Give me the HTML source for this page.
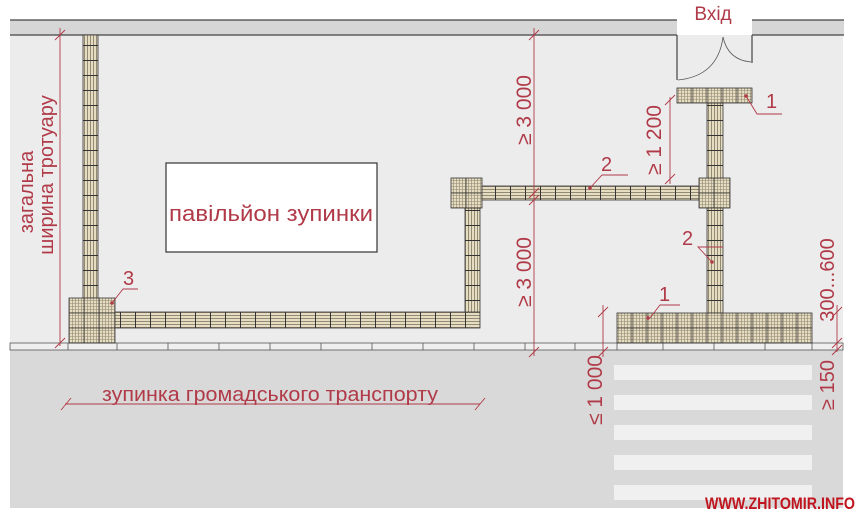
<!DOCTYPE html>
<html><head><meta charset="utf-8"><style>
html,body{margin:0;padding:0;background:#fff;}
svg{display:block;}
text{font-family:"Liberation Sans",sans-serif;fill:#b03a48;}
</style></head><body>
<svg width="859" height="518" viewBox="0 0 859 518" xmlns="http://www.w3.org/2000/svg">
<defs>
<pattern id="grid" width="3" height="3" patternUnits="userSpaceOnUse">
<rect width="3" height="3" fill="#e6dcc0"/><path d="M0 0.5H3M0.5 0V3" stroke="#8f8672" stroke-width="0.6"/>
</pattern>
<pattern id="vs" width="3" height="15" patternUnits="userSpaceOnUse">
<rect width="3" height="15" fill="#e6dcc0"/><path d="M0.5 0V15" stroke="#7d7563" stroke-width="0.8"/><path d="M0 0.5H3" stroke="#333" stroke-width="1"/>
</pattern>
<pattern id="hs" width="15" height="3" patternUnits="userSpaceOnUse">
<rect width="15" height="3" fill="#e6dcc0"/><path d="M0 0.5H15" stroke="#7d7563" stroke-width="0.8"/><path d="M0.5 0V3" stroke="#333" stroke-width="1"/>
</pattern>
</defs>
<rect x="10" y="35" width="833" height="308" fill="#ececec"/>
<rect x="10" y="20" width="667" height="15" fill="#d6d6d6"/>
<rect x="752" y="20" width="92" height="15" fill="#d6d6d6"/>
<path d="M10 20H677M10 35H677M752 20H844M752 35H844" stroke="#444" stroke-width="1.2"/>
<path d="M677 35V80M752 35V63" stroke="#444" stroke-width="1.2"/>
<path d="M678 80Q718 76 723 37M751 62Q728 60 723 37" stroke="#555" fill="none" stroke-width="0.8"/>
<text x="713" y="20" font-size="19" text-anchor="middle">Вхід</text>
<rect x="10" y="350" width="833" height="158" fill="#d9d9d9"/>
<rect x="10" y="343" width="833" height="7" fill="#efefef" stroke="#555" stroke-width="0.8"/>
<path d="M68 343V350M117 343V350M168 343V350M219 343V350M270 343V350M321 343V350M372 343V350M423 343V350M474 343V350M525 343V350M575 343V350M617 343V350M663 343V350M714 343V350M765 343V350M812 343V350" stroke="#555" stroke-width="0.8"/>
<g fill="#f0f0f0">
<rect x="614" y="365" width="198" height="15"/><rect x="614" y="395" width="198" height="15"/><rect x="614" y="425" width="198" height="15"/><rect x="614" y="455" width="198" height="15"/><rect x="614" y="485" width="198" height="15"/>
</g>
<g stroke="#333" stroke-width="0.8">
<rect x="83" y="35" width="15" height="263" fill="url(#vs)"/>
<rect x="69" y="298" width="46" height="45" fill="url(#grid)"/>
<path d="M69 313H115M69 328H115M84 298V343M99 298V343" fill="none"/>
<rect x="115" y="312" width="365" height="16" fill="url(#hs)"/>
<rect x="465" y="208" width="15" height="104" fill="url(#vs)"/>
<rect x="451" y="178" width="31" height="30" fill="url(#grid)"/>
<path d="M466 178V208M451 193H482" fill="none"/>
<rect x="482" y="186" width="217" height="14" fill="url(#hs)"/>
<rect x="699" y="178" width="31" height="30" fill="url(#grid)"/>
<path d="M714 178V208M699 193H730" fill="none"/>
<rect x="707" y="103" width="16" height="75" fill="url(#vs)"/>
<rect x="707" y="208" width="16" height="105" fill="url(#vs)"/>
<rect x="677" y="88" width="75" height="15" fill="url(#grid)"/>
<path d="M692 88V103M707 88V103M722 88V103M737 88V103" fill="none"/>
<rect x="617" y="313" width="195" height="30" fill="url(#grid)"/>
<path d="M617 328H812M632 313V343M647 313V343M662 313V343M677 313V343M692 313V343M707 313V343M722 313V343M737 313V343M752 313V343M767 313V343M782 313V343M797 313V343" fill="none"/>
</g>
<rect x="166" y="163" width="211" height="89" fill="#fff" stroke="#333" stroke-width="1.2"/>
<text x="271" y="221" font-size="22" text-anchor="middle" textLength="204" lengthAdjust="spacingAndGlyphs">павільйон зупинки</text>
<g stroke="#b03a48" stroke-width="0.9" fill="none">
<path d="M60 28V346M55 40L65 30M55 348L65 338"/>
<path d="M534 28V356M529 40L539 30M529 198L539 188M529 205L539 195M529 357L539 347"/>
<path d="M670 97V184M665 105L675 95M665 184L675 174"/>
<path d="M603 305V357M598 317L608 307M598 357L608 347"/>
<path d="M837 305V352M832 317L842 307M832 348L842 338M832 355L842 345"/>
<path d="M65 404H480M61 410L71 398M475 410L485 398"/>
<path d="M746 96L757 114H782M590 188L602 175H628M712 262L698 247H723M112 303L123 289H138M650 318L660 305H680"/>
</g>
<g fill="#b03a48"><circle cx="746" cy="96" r="1.8"/><circle cx="590" cy="188" r="1.8"/><circle cx="712" cy="262" r="1.8"/><circle cx="112" cy="303" r="1.8"/><circle cx="648" cy="318" r="1.8"/></g>
<text x="766" y="108" font-size="20">1</text>
<text x="601" y="171" font-size="20">2</text>
<text x="682" y="245" font-size="20">2</text>
<text x="123" y="285" font-size="20">3</text>
<text x="659" y="301" font-size="20">1</text>
<text transform="translate(33,192) rotate(-90)" font-size="20" text-anchor="middle">загальна</text>
<text transform="translate(53,175) rotate(-90)" font-size="20" text-anchor="middle">ширина тротуару</text>
<text transform="translate(531,110) rotate(-90)" font-size="21" text-anchor="middle">≥ 3 000</text>
<text transform="translate(531,272) rotate(-90)" font-size="21" text-anchor="middle">≥ 3 000</text>
<text transform="translate(661,140) rotate(-90)" font-size="21" text-anchor="middle">≥ 1 200</text>
<text transform="translate(602,390) rotate(-90)" font-size="21" text-anchor="middle">≤ 1 000</text>
<text transform="translate(834,280) rotate(-90)" font-size="20" text-anchor="middle">300...600</text>
<text transform="translate(834,385) rotate(-90)" font-size="20" text-anchor="middle">≥ 150</text>
<text x="270" y="401" font-size="20" text-anchor="middle" textLength="336" lengthAdjust="spacingAndGlyphs">зупинка громадського транспорту</text>
<text x="855" y="509" font-size="17" font-weight="bold" text-anchor="end" textLength="150" lengthAdjust="spacingAndGlyphs" style="fill:#c0141e">WWW.ZHITOMIR.INFO</text>
</svg>
</body></html>
